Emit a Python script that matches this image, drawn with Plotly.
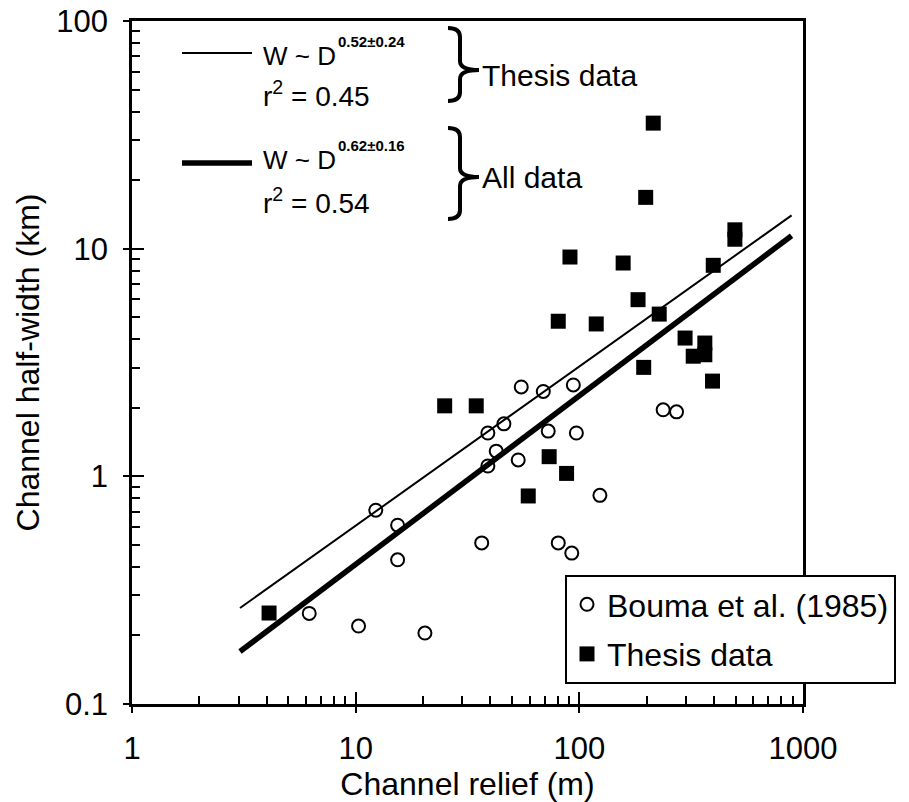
import plotly.graph_objects as go

# Channel relief D (m) and channel half-width W (km)
bouma_relief = [6.2, 10.3, 20.4, 12.3, 15.4, 15.4, 36.6, 39, 39, 42.5, 46, 55, 69, 94,
                72.6, 97, 53.3, 123.6, 80.5, 92.5, 237, 272]
bouma_width = [0.25, 0.22, 0.205, 0.71, 0.61, 0.43, 0.51, 1.55, 1.11, 1.29, 1.70, 2.47, 2.36, 2.52,
               1.58, 1.55, 1.18, 0.825, 0.51, 0.46, 1.96, 1.92]

thesis_relief = [4.1, 25, 34.6, 73.3, 87.7, 59.1, 214, 198, 496, 496, 397, 90.8, 157, 183,
                 227.6, 80.5, 119, 297, 323, 364, 364, 394, 194]
thesis_width = [0.251, 2.04, 2.04, 1.22, 1.03, 0.82, 35.6, 16.8, 12.1, 11.0, 8.45, 9.19, 8.65, 5.97,
                5.16, 4.80, 4.67, 4.05, 3.37, 3.85, 3.42, 2.62, 3.01]

# power-law fits, drawn between their end points
fit_relief = [3.04, 889]
fit_thesis_width = [0.264, 14.0]
fit_all_width = [0.170, 11.4]

x_ticks = [1, 10, 100, 1000]
y_ticks = [0.1, 1, 10, 100]
x_ticktext = ["1", "10", "100", "1000"]
y_ticktext = ["0.1", "1", "10", "100"]

W, H = 909, 802
L, R, T, B = 132, 106, 21, 98
PW, PH = W - L - R, H - T - B
FONT = "Liberation Sans, Arial, sans-serif"


def fx(px):
    return (px - L) / PW


def fy(py):
    return (H - B - py) / PH


fig = go.Figure()
fig.add_trace(go.Scatter(x=fit_relief, y=fit_thesis_width, mode="lines",
                         line=dict(color="black", width=2), showlegend=False, hoverinfo="skip"))
fig.add_trace(go.Scatter(x=fit_relief, y=fit_all_width, mode="lines",
                         line=dict(color="black", width=5.5), showlegend=False, hoverinfo="skip"))
fig.add_trace(go.Scatter(x=bouma_relief, y=bouma_width, mode="markers", name="Bouma et al. (1985)",
                         legendgroup="b",
                         marker=dict(symbol="circle-open", size=13, color="black", line=dict(width=2))))
fig.add_trace(go.Scatter(x=thesis_relief, y=thesis_width, mode="markers", name="Thesis data",
                         legendgroup="t",
                         marker=dict(symbol="square", size=15, color="black")))
# transparent copies that bring up the overlay axes: one pair carries the minor ticks,
# the other the outer half of the major ticks
for xa, ya in [("x2", "y2"), ("x3", "y3")]:
    fig.add_trace(go.Scatter(x=thesis_relief, y=thesis_width, xaxis=xa, yaxis=ya, mode="markers",
                             marker=dict(opacity=0), showlegend=False, hoverinfo="skip"))

minor_x = [m * 10 ** k for k in range(0, 3) for m in range(2, 10)]
minor_y = [m * 10 ** k for k in range(-1, 2) for m in range(2, 10)]

axis_common = dict(type="log", showgrid=False, zeroline=False, showline=True, linewidth=2.5,
                   linecolor="black", mirror=True, ticks="inside", ticklen=12, tickwidth=2,
                   tickcolor="black", tickfont=dict(size=31, color="black", family=FONT),
                   ticklabelstandoff=15, automargin=False)
overlay_common = dict(type="log", showticklabels=False, showline=False, showgrid=False,
                      zeroline=False, tickcolor="black", tickwidth=2.2, automargin=False)

fig.update_layout(
    width=W, height=H,
    margin=dict(l=L, r=R, t=T, b=B),
    paper_bgcolor="white", plot_bgcolor="white",
    font=dict(family=FONT, color="black"),
    xaxis=dict(axis_common, range=[0, 3], tickvals=x_ticks, ticktext=x_ticktext,
               title=dict(text="Channel relief (m)", font=dict(size=32), standoff=17)),
    yaxis=dict(axis_common, range=[-1, 2], tickvals=y_ticks, ticktext=y_ticktext,
               title=dict(text="Channel half-width (km)", font=dict(size=32), standoff=8)),
    xaxis2=dict(overlay_common, range=[0, 3], overlaying="x", anchor="y", side="bottom",
                tickvals=minor_x, ticks="inside", ticklen=8),
    yaxis2=dict(overlay_common, range=[-1, 2], overlaying="y", anchor="x", side="left",
                tickvals=minor_y, ticks="inside", ticklen=8),
    xaxis3=dict(overlay_common, range=[0, 3], overlaying="x", anchor="y", side="bottom",
                tickvals=x_ticks, ticks="outside", ticklen=8),
    yaxis3=dict(overlay_common, range=[-1, 2], overlaying="y", anchor="x", side="left",
                tickvals=y_ticks, ticks="outside", ticklen=8),
    legend=dict(x=fx(565), y=fy(575), xanchor="left", yanchor="top",
                bordercolor="black", borderwidth=2, bgcolor="white",
                font=dict(size=32, color="black", family=FONT),
                traceorder="grouped", tracegroupgap=5, itemwidth=30),
    showlegend=True,
)

# key for the two fitted lines
shape_line = dict(type="line", xref="paper", yref="paper", line=dict(color="black"))
fig.add_shape(shape_line, x0=fx(182), x1=fx(252), y0=fy(53), y1=fy(53), line_width=2)
fig.add_shape(shape_line, x0=fx(182), x1=fx(252), y0=fy(163), y1=fy(163), line_width=5.5)


def brace(xl, xm, xt, yt, yb, ymid):
    pts = [("M", [(xl, yt)]),
           ("Q", [(xm, yt), (xm, yt + 9)]),
           ("L", [(xm, ymid - 9)]),
           ("Q", [(xm, ymid), (xt, ymid)]),
           ("Q", [(xm, ymid), (xm, ymid + 9)]),
           ("L", [(xm, yb - 9)]),
           ("Q", [(xm, yb), (xl, yb)])]
    out = []
    for cmd, p in pts:
        out.append(cmd + " ".join(f"{fx(a):.5f},{fy(b):.5f}" for a, b in p))
    return " ".join(out)


for yt, yb, ym in [(28, 101, 70), (128, 219, 177)]:
    fig.add_shape(type="path", xref="paper", yref="paper", path=brace(448, 460, 479, yt, yb, ym),
                  line=dict(color="black", width=4))


def note(text, px, py, size, weight="normal"):
    fig.add_annotation(text=text, x=fx(px), y=fy(py), xref="paper", yref="paper",
                       xanchor="left", yanchor="middle", showarrow=False, borderpad=0,
                       font=dict(size=size, color="black", family=FONT, weight=weight))


note("W ~ D", 262, 56, 26)
note("0.52±0.24", 337, 41, 15, "bold")
note("r<sup>2</sup> = 0.45", 262, 94, 28)
note("W ~ D", 262, 160, 26)
note("0.62±0.16", 337, 145, 15, "bold")
note("r<sup>2</sup> = 0.54", 262, 201, 28)
note("Thesis data", 481, 76, 30)
note("All data", 481, 177, 30)

fig.write_html("out.html")
